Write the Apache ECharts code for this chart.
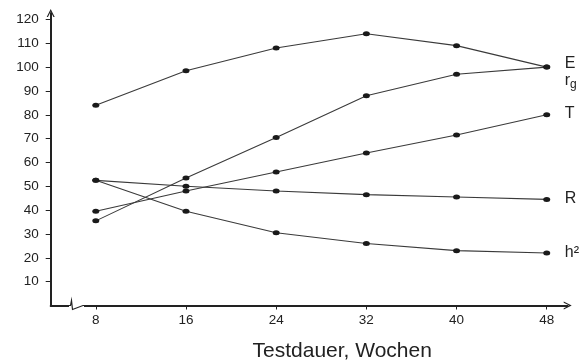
<!DOCTYPE html>
<html>
<head>
<meta charset="utf-8">
<style>
  html, body { margin: 0; padding: 0; background: #fff; }
  #main { width: 588px; height: 363px; }
</style>
<script src="https://cdn.jsdelivr.net/npm/echarts@6/dist/echarts.min.js"></script>
</head>
<body>
<div id="main"></div>
<script>
// test duration (weeks)
const weeks = [8, 16, 24, 32, 40, 48];
const yTicks = [10, 20, 30, 40, 50, 60, 70, 80, 90, 100, 110, 120];

// values
const seriesE  = [84, 98.5, 108, 114, 109, 100];
const seriesRg = [35.5, 53.5, 70.5, 88, 97, 100];
const seriesT  = [39.5, 48, 56, 64, 71.5, 80];
const seriesR  = [52.5, 50, 48, 46.5, 45.5, 44.5];
const seriesH2 = [52.5, 39.5, 30.5, 26, 23, 22];

const font = '"Liberation Sans", Arial, sans-serif';
const ink = '#222';
const lineCol = '#3a3a3a';
const dot = 'path://M0,5a5,5 0 1,0 10,0a5,5 0 1,0 -10,0z';
const chevron = 'path://M0,10 L5,0 L10,10 L8.4,10 L5,3 L1.6,10 Z';

function makeSeries(name, values, label, offset, rich) {
  return {
    name: name,
    type: 'line',
    data: weeks.map((w, i) => [w, values[i]]),
    symbol: dot,
    symbolSize: [7, 5],
    showSymbol: true,
    itemStyle: { color: '#1a1a1a' },
    lineStyle: { color: lineCol, width: 1.1 },
    endLabel: {
      show: true,
      formatter: label,
      distance: 18,
      offset: offset,
      color: ink,
      fontFamily: font,
      fontSize: 16,
      rich: rich
    },
    animation: false
  };
}

const chart = echarts.init(document.getElementById('main'));

const option = {
  animation: false,
  grid: { left: 50.7, right: 20.3, top: 13, bottom: 57.5, outerBoundsMode: 'none' },
  xAxis: {
    type: 'value',
    min: 4,
    max: 49.86,
    name: 'Testdauer, Wochen',
    nameLocation: 'middle',
    nameGap: 35,
    nameTextStyle: { fontFamily: font, fontSize: 21, color: ink, padding: [0, 0, 0, 66] },
    axisLine: { lineStyle: { color: ink, width: 2 }, symbol: ['none', chevron], symbolSize: [8, 10] },
    axisTick: { customValues: weeks, length: 4, lineStyle: { color: ink } },
    axisLabel: { customValues: weeks, fontFamily: font, fontSize: 13.5, color: ink, margin: 8 },
    splitLine: { show: false }
  },
  yAxis: {
    type: 'value',
    min: 0,
    max: 122.7,
    axisLine: { lineStyle: { color: ink, width: 2 }, symbol: ['none', chevron], symbolSize: [8, 10] },
    axisTick: { customValues: yTicks, length: 5, lineStyle: { color: ink } },
    axisLabel: { customValues: yTicks, fontFamily: font, fontSize: 13.5, color: ink, margin: 12 },
    splitLine: { show: false }
  },
  series: [
    makeSeries('E', seriesE, 'E', [0, -4]),
    makeSeries('rg', seriesRg, '{r|r}{g|g}', [0, 13], {
      r: { fontFamily: font, fontSize: 16, color: ink, verticalAlign: 'top', lineHeight: 16 },
      g: { fontFamily: font, fontSize: 12, color: ink, verticalAlign: 'top', lineHeight: 12, padding: [7, 0, 0, 0] }
    }),
    makeSeries('T', seriesT, 'T', [0, -1]),
    makeSeries('R', seriesR, 'R', [0, -1]),
    makeSeries('h2', seriesH2, 'h²', [0, 0])
  ],
  // axis break mark on the x axis
  graphic: [
    {
      type: 'rect',
      z: 100,
      shape: { x: 69, y: 302, width: 15, height: 7 },
      style: { fill: '#fff' }
    },
    {
      type: 'polyline',
      z: 101,
      shape: { points: [[68.5, 305.5], [70.5, 305.5], [71.5, 300.5], [72.5, 309.5], [83, 305.5], [85, 305.5]] },
      style: { stroke: ink, lineWidth: 1.2, fill: null }
    }
  ]
};

chart.setOption(option);
</script>
</body>
</html>
